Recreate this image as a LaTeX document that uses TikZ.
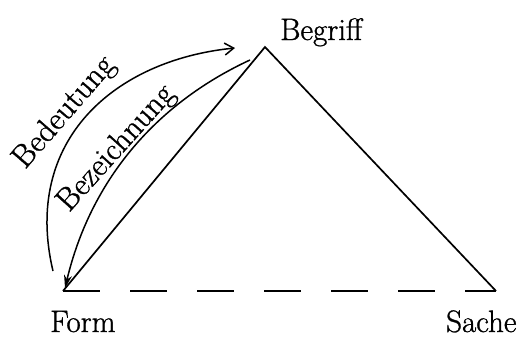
\documentclass[tikz,border=0pt]{standalone}
\usepackage{fontspec}
\setmainfont{Latin Modern Roman}[RawFeature={embolden=1.0}]
\usetikzlibrary{arrows.meta}
\begin{document}
\begin{tikzpicture}[x=1pt,y=-1pt,
  lbl/.style={inner sep=0pt,font=\fontsize{31}{33}\selectfont},
  rlbl/.style={inner sep=0pt,font=\fontsize{32}{34}\selectfont},
  edge/.style={line width=1.7pt},
  curvearrow/.style={line width=1.5pt}]
\useasboundingbox (0,0) rectangle (525,338);
\coordinate (B) at (265,47);
\coordinate (F) at (63,291);
\coordinate (S) at (496,291);
\coordinate (bzs) at (250,60);
\coordinate (bzf) at (65,288);
\coordinate (bds) at (53,271);
\coordinate (bdt) at (235,48);
\node[lbl,anchor=base west] (begriff) at (280,40) {Begriff};
\node[lbl,anchor=base west] (form) at (50,332) {Form};
\node[lbl,anchor=base west] (sache) at (446,332) {Sache};
\node[rlbl,anchor=base west,rotate=49] (bedeutung) at (25,170) {Bedeutung};
\node[rlbl,anchor=base west,rotate=48] (bezeichnung) at (69,213) {Bezeichnung};
\draw[edge,line join=miter] (F) -- (B) -- (S);
\draw[edge,dash pattern=on 37pt off 30pt] (F) -- (S);
\draw[curvearrow,-{Stealth[length=13pt,width=8pt]}] (bzs) .. controls (153,105) and (90,183) .. (bzf);
\draw[curvearrow,-{Straight Barb[length=9pt,width=12pt,line width=1.5pt]}] (bds) .. controls (22,140) and (115,60) .. (bdt);
\end{tikzpicture}
\end{document}
